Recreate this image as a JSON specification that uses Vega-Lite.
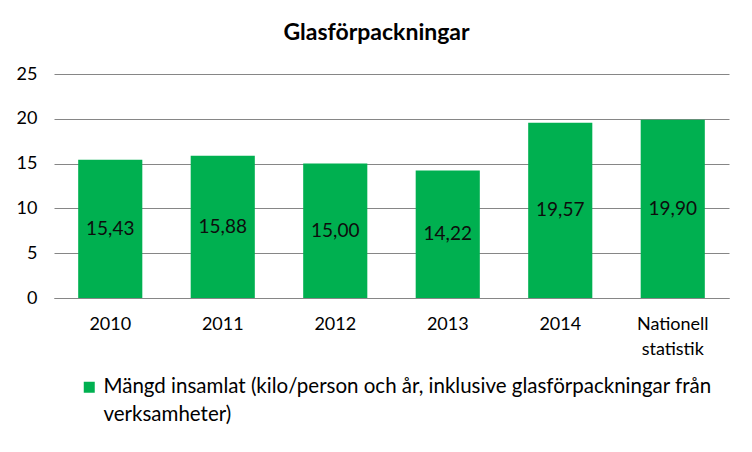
{
  "$schema": "https://vega.github.io/schema/vega-lite/v6.json",
  "autosize": "none",
  "width": 675,
  "height": 224,
  "padding": {"left": 54, "top": 74, "right": 23, "bottom": 154},
  "background": "white",
  "title": {"text": "Glasförpackningar", "fontSize": 23, "font": "Lato", "fontWeight": "bold", "color": "#000000", "anchor": "middle", "dx": -15, "offset": 20},
  "data": {"values": [
    {"kategori": "2010", "v": 15.43, "serie": "Mängd insamlat"},
    {"kategori": "2011", "v": 15.88, "serie": "Mängd insamlat"},
    {"kategori": "2012", "v": 15.00, "serie": "Mängd insamlat"},
    {"kategori": "2013", "v": 14.22, "serie": "Mängd insamlat"},
    {"kategori": "2014", "v": 19.57, "serie": "Mängd insamlat"},
    {"kategori": "Nationell statistik", "v": 19.90, "serie": "Mängd insamlat"}
  ]},
  "encoding": {
    "x": {"field": "kategori", "type": "nominal", "sort": null,
      "scale": {"paddingInner": 0.43, "paddingOuter": 0.215},
      "axis": {"title": null, "labelAngle": 0, "ticks": false, "labelPadding": 26, "labelFontSize": 18, "labelFont": "Lato", "labelColor": "#000000", "domainColor": "#868686", "labelLineHeight": 25, "labelBaseline": "middle",
        "labelExpr": "datum.value == 'Nationell statistik' ? ['Nationell', 'statistik'] : datum.value"}}
  },
  "layer": [
    {
      "mark": {"type": "bar", "color": "#00B050"},
      "encoding": {
        "y": {"field": "v", "type": "quantitative", "scale": {"domain": [0, 25]},
          "axis": {"title": null, "values": [0, 5, 10, 15, 20, 25], "ticks": false, "domain": false, "labelPadding": 17, "labelFontSize": 18, "labelFont": "Lato", "labelColor": "#000000", "gridColor": "#868686", "format": "d"}},
        "fill": {"field": "serie", "type": "nominal",
          "scale": {"range": ["#00B050"]},
          "legend": {"orient": "none", "legendX": 25, "legendY": 303, "title": null, "symbolType": "square", "symbolSize": 121, "symbolStrokeWidth": 0, "labelFontSize": 20.5, "labelFont": "Lato", "labelColor": "#000000", "labelLimit": 700, "labelOffset": 4,
            "labelExpr": "['Mängd insamlat (kilo/person och år, inklusive glasförpackningar från', 'verksamheter)']"}}
      }
    },
    {
      "mark": {"type": "text", "fontSize": 19, "font": "Lato", "color": "#0d0d0d", "baseline": "middle"},
      "encoding": {
        "y": {"value": {"expr": "scale('y', datum.v / 2)"}},
        "text": {"field": "v", "type": "quantitative", "format": ".2f"}
      }
    }
  ],
  "config": {
    "locale": {"number": {"decimal": ",", "thousands": " ", "grouping": [3], "currency": ["", " kr"]}},
    "view": {"stroke": null},
    "style": {"guide-label": {"lineHeight": 28}}
  }
}
